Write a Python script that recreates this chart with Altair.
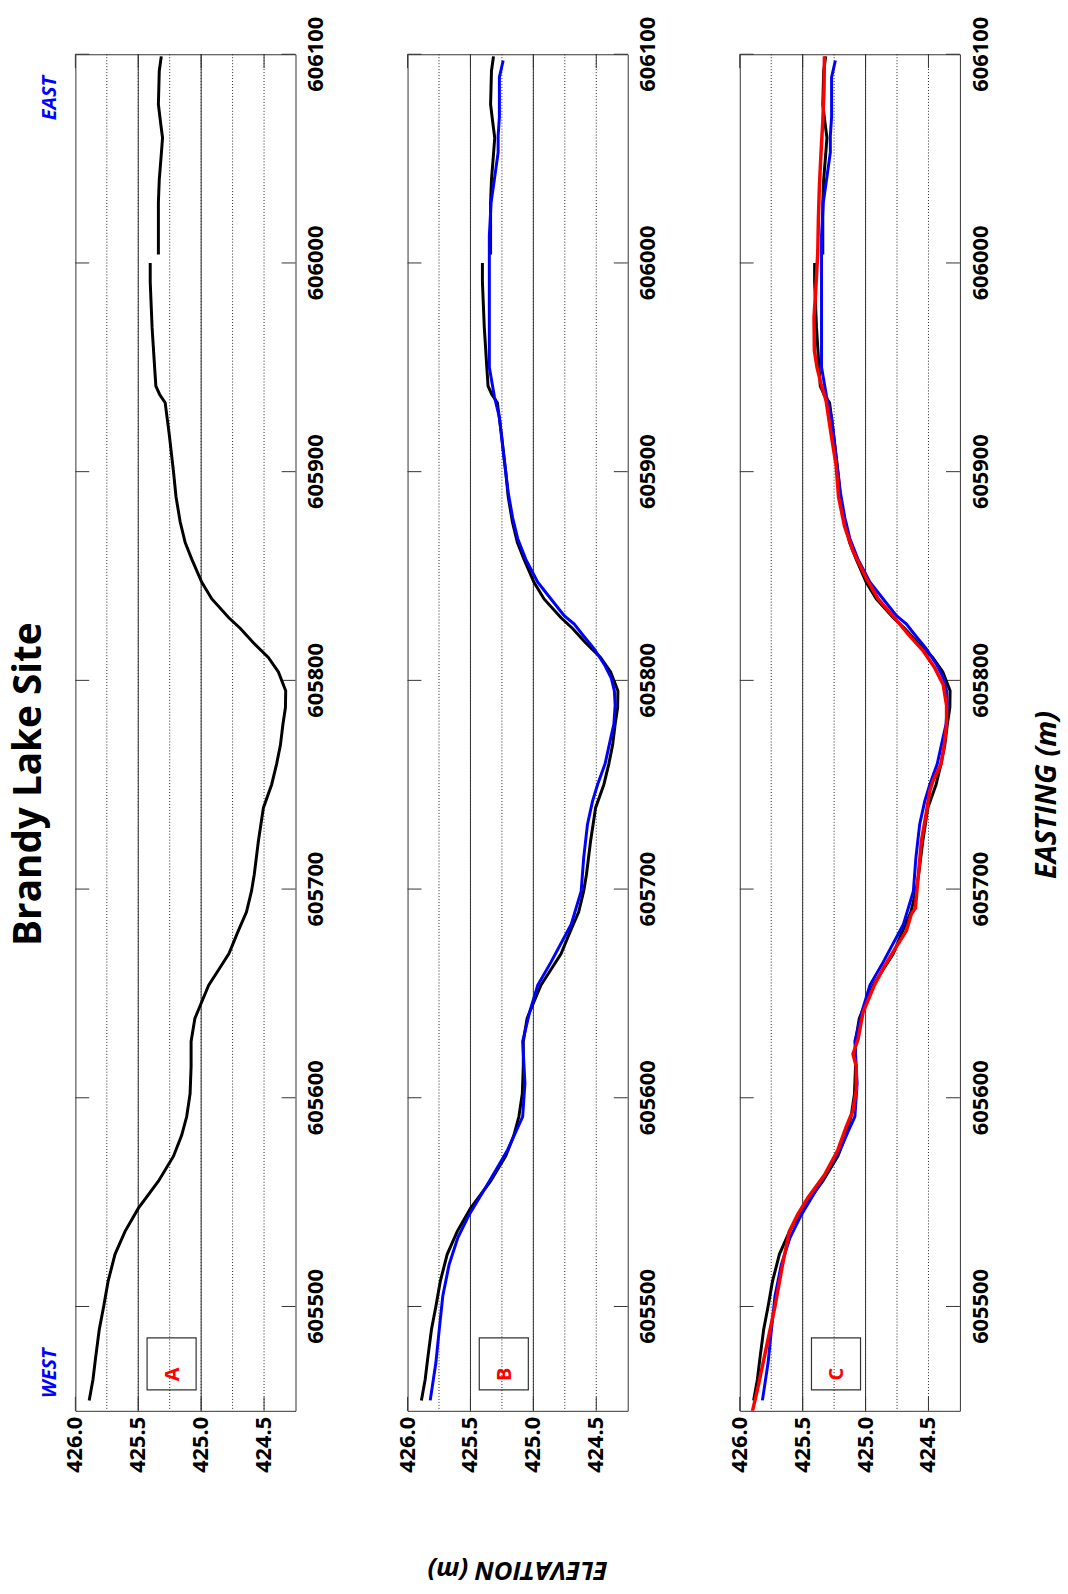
import altair as alt
import pandas as pd

# ---- Survey profile readings: easting (m) and elevation (m) ----
# Ground survey (black), split at the break near 606000 m
BLACK_WEST_E = [605455, 605465, 605475, 605489, 605500, 605512, 605525, 605536, 605547, 605560,
                605572, 605582, 605591, 605602, 605615, 605627, 605638, 605646, 605654, 605660,
                605669, 605680, 605689, 605699, 605707, 605723, 605739, 605750, 605760, 605769,
                605779, 605787, 605795, 605804, 605811, 605818, 605825, 605830, 605839, 605847,
                605858, 605866, 605876, 605888, 605900, 605918, 605933, 605937, 605941, 605950,
                605969, 605991, 606000]
BLACK_WEST_Z = [425.89, 425.86, 425.84, 425.81, 425.775, 425.74, 425.685, 425.605, 425.50, 425.34,
                425.22, 425.155, 425.115, 425.088, 425.08, 425.08, 425.05, 424.995, 424.94, 424.875,
                424.78, 424.705, 424.64, 424.60, 424.578, 424.545, 424.505, 424.44, 424.40, 424.37,
                424.35, 424.33, 424.328, 424.386, 424.466, 424.585, 424.69, 424.78, 424.915, 424.995,
                425.074, 425.127, 425.167, 425.20, 425.22, 425.254, 425.286, 425.33, 425.36, 425.37,
                425.39, 425.405, 425.405]
BLACK_EAST_E = [606004, 606015, 606029, 606040, 606052, 606060, 606066, 606076, 606092, 606099]
BLACK_EAST_Z = [425.34, 425.34, 425.34, 425.333, 425.317, 425.307, 425.32, 425.34, 425.333, 425.317]

# Second profile (blue)
BLUE_E = [605455, 605473, 605489, 605505, 605520, 605533, 605544, 605560, 605575, 605591,
          605607, 605627, 605641, 605654, 605665, 605683, 605699, 605715, 605731, 605742,
          605750, 605760, 605771, 605779, 605788, 605795, 605801, 605807, 605815, 605822,
          605827, 605831, 605839, 605847, 605858, 605868, 605878, 605890, 605910, 605926,
          605936, 605950, 605966, 605982, 605997, 606013, 606029, 606040, 606053, 606061,
          606070, 606089, 606097]
BLUE_Z = [425.82, 425.775, 425.748, 425.72, 425.67, 425.60, 425.51, 425.35, 425.205, 425.085,
          425.067, 425.085, 425.03, 424.965, 424.86, 424.70, 424.62, 424.60, 424.57, 424.53,
          424.49, 424.43, 424.39, 424.36, 424.35, 424.356, 424.38, 424.43, 424.515, 424.61,
          424.675, 424.755, 424.86, 424.965, 425.06, 425.125, 425.165, 425.20, 425.24, 425.27,
          425.31, 425.35, 425.35, 425.35, 425.35, 425.35, 425.336, 425.31, 425.28, 425.28,
          425.27, 425.27, 425.24]

# Third profile (red)
RED_E = [605447, 605460, 605480, 605500, 605520, 605536, 605544, 605552, 605563, 605575,
         605586, 605594, 605604, 605615, 605621, 605628, 605641, 605654, 605662, 605670,
         605680, 605688, 605691, 605707, 605723, 605737, 605747, 605752, 605760, 605769,
         605779, 605788, 605798, 605806, 605814, 605822, 605830, 605839, 605849, 605862,
         605874, 605888, 605903, 605918, 605934, 605942, 605950, 605958, 605974, 605989,
         606005, 606021, 606037, 606053, 606068, 606084, 606099]
RED_Z = [425.91, 425.86, 425.79, 425.72, 425.66, 425.606, 425.54, 425.46, 425.327, 425.22,
         425.154, 425.10, 425.074, 425.074, 425.10, 425.06, 425.02, 424.93, 424.86, 424.78,
         424.676, 424.636, 424.604, 424.58, 424.556, 424.516, 424.49, 424.463, 424.40, 424.375,
         424.356, 424.356, 424.383, 424.45, 424.54, 424.66, 424.77, 424.90, 424.995, 425.10,
         425.168, 425.215, 425.234, 425.274, 425.314, 425.354, 425.386, 425.407, 425.41, 425.394,
         425.38, 425.375, 425.367, 425.354, 425.34, 425.33, 425.327]

# ---- Axes ----
EASTING_TICKS = [605500, 605600, 605700, 605800, 605900, 606000, 606100]
ELEV_TICKS = [426.0, 425.5, 425.0, 424.5]
ELEV_DOTTED = [425.75, 425.5, 425.25, 425.0, 424.75, 424.5]
ELEV_SOLID = [425.5, 425.0]
PANEL_LABELS = ["A", "B", "C"]

E_DOMAIN = [605450, 606100]
Z_DOMAIN = [424.25, 426.0]

W, H = 222, 1368
GAP = 113
TICK_PX = 14
FONT = "Open Sans"

xs = alt.Scale(domain=Z_DOMAIN, reverse=True, nice=False, zero=False)
ys = alt.Scale(domain=E_DOMAIN, nice=False, zero=False)


def X(field="Z:Q"):
    return alt.X(field, scale=xs, axis=None)


def Y(field="E:Q"):
    return alt.Y(field, scale=ys, axis=None)


def frame(e, z):
    return pd.DataFrame({"E": e, "Z": z})


black = pd.concat([frame(BLACK_WEST_E, BLACK_WEST_Z).assign(seg="w"),
                   frame(BLACK_EAST_E, BLACK_EAST_Z).assign(seg="e")])
blue = frame(BLUE_E, BLUE_Z).assign(seg="b")
red = frame(RED_E, RED_Z).assign(seg="r")


def profile(df, color, width):
    return alt.Chart(df).mark_line(color=color, strokeWidth=width, clip=True).encode(
        x=X(), y=Y(), detail="seg:N", order="E:Q"
    )


def panel(idx, series, x_title=None, y_title=None, title=None, compass=False):
    dotted = alt.Chart(pd.DataFrame({"Z": ELEV_DOTTED})).mark_rule(
        color="#222", strokeWidth=1, strokeDash=[1, 2]
    ).encode(x=X())

    solid = alt.Chart(pd.DataFrame({"Z": ELEV_SOLID})).mark_rule(
        color="#333", strokeWidth=1
    ).encode(x=X())

    # inward ticks along both long edges (easting) and both short edges (elevation)
    dz = TICK_PX / W * (Z_DOMAIN[1] - Z_DOMAIN[0])
    de = TICK_PX / H * (E_DOMAIN[1] - E_DOMAIN[0])
    etick = pd.DataFrame(
        [{"E": e, "Z": Z_DOMAIN[1], "Z2": Z_DOMAIN[1] - dz} for e in EASTING_TICKS]
        + [{"E": e, "Z": Z_DOMAIN[0], "Z2": Z_DOMAIN[0] + dz} for e in EASTING_TICKS]
    )
    ztick = pd.DataFrame(
        [{"Z": z, "E": E_DOMAIN[0], "E2": E_DOMAIN[0] + de} for z in ELEV_TICKS]
        + [{"Z": z, "E": E_DOMAIN[1] - de, "E2": E_DOMAIN[1]} for z in ELEV_TICKS]
    )
    eticks = alt.Chart(etick).mark_rule(color="#333", strokeWidth=1).encode(
        x=X(), x2="Z2:Q", y=Y()
    )
    zticks = alt.Chart(ztick).mark_rule(color="#333", strokeWidth=1).encode(
        x=X(), y=Y(), y2="E2:Q"
    )

    # tick labels: easting on the right edge, elevation below the bottom edge
    e_labels = alt.Chart(pd.DataFrame({"E": EASTING_TICKS})).mark_text(
        font=FONT, fontSize=22, fontWeight="bold", color="black", angle=270,
        align="center", baseline="top"
    ).encode(y=Y(), x=alt.value(W + 11), text=alt.Text("E:Q", format="d"))
    z_labels = alt.Chart(pd.DataFrame({"Z": ELEV_TICKS})).mark_text(
        font=FONT, fontSize=22, fontWeight="bold", color="black", angle=270,
        align="right", baseline="middle"
    ).encode(x=X(), y=alt.value(H + 6), text=alt.Text("Z:Q", format=".1f"))

    box = alt.Chart(pd.DataFrame({"Z": [425.43], "Z2": [425.04], "E": [605460], "E2": [605485]})
                    ).mark_rect(fillOpacity=0, stroke="#333", strokeWidth=1.2).encode(
        x=X(), x2="Z2:Q", y=Y(), y2="E2:Q"
    )
    letter = alt.Chart(pd.DataFrame({"Z": [425.225], "E": [605467.5],
                                     "t": [PANEL_LABELS[idx]]})).mark_text(
        color="#ff0000", font=FONT, fontSize=20, fontWeight="bold", angle=270,
        align="center", baseline="middle"
    ).encode(x=X(), y=Y(), text="t:N")

    lines = [profile(df, c, w) for df, c, w in series]
    layers = [dotted, solid, eticks, zticks, e_labels, z_labels, box, letter] + lines

    if compass:
        dirs = alt.Chart(pd.DataFrame({"Z": [426.2, 426.2], "E": [605468, 606079],
                                       "t": ["WEST", "EAST"]})).mark_text(
            color="#0000ff", font=FONT, fontSize=20, fontWeight="bold", fontStyle="italic",
            angle=270, align="center", baseline="middle"
        ).encode(x=X(), y=Y(), text="t:N")
        layers.append(dirs)
    if x_title:
        layers.append(alt.Chart(pd.DataFrame({"t": [x_title]})).mark_text(
            font=FONT, fontSize=26, fontWeight="bold", fontStyle="italic", color="black",
            angle=180, align="center", baseline="middle"
        ).encode(x=alt.value(W / 2), y=alt.value(H + 160), text="t:N"))
    if y_title:
        layers.append(alt.Chart(pd.DataFrame({"t": [y_title]})).mark_text(
            font=FONT, fontSize=29, fontWeight="bold", fontStyle="italic", color="black",
            angle=270, align="center", baseline="middle"
        ).encode(x=alt.value(W + 88), y=alt.value(747), text="t:N"))

    props = dict(width=W, height=H)
    if title:
        props["title"] = title
    return alt.layer(*layers).properties(**props)


title = alt.TitleParams("Brandy Lake Site", orient="left", anchor="middle", frame="group",
                        font=FONT, fontSize=39, fontWeight="bold", color="black",
                        offset=-9, dx=-52)

pA = panel(0, [(black, "black", 3)], title=title, compass=True)
pB = panel(1, [(black, "black", 3), (blue, "#0000ff", 3)], x_title="ELEVATION (m)")
pC = panel(2, [(black, "black", 3), (blue, "#0000ff", 3), (red, "#ff0000", 3.5)],
           y_title="EASTING (m)")

# panels are spaced by their plot areas only, so the gap between frames is exact
chart = alt.hconcat(pA, pB, pC, spacing=GAP, bounds="flush").properties(
    padding={"left": 10, "top": 9, "right": 5, "bottom": 5}
).configure_view(stroke="#333", strokeWidth=1)

chart.save("out.html", embed_options={"renderer": "svg", "actions": False})
